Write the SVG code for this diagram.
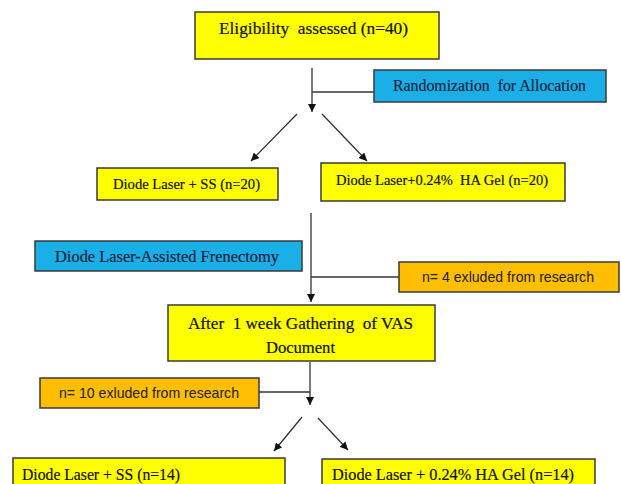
<svg xmlns="http://www.w3.org/2000/svg" width="621" height="484" viewBox="0 0 621 484">
<defs>
<style>
text{white-space:pre}
.y{fill:#FFFF00;stroke:#3a3a3a;stroke-width:1.5}
.b{fill:#1AAFE6;stroke:#3a3a3a;stroke-width:1.5}
.o{fill:#FFBE00;stroke:#3a3a3a;stroke-width:1.5}
.t{font-family:"Liberation Serif","Times New Roman",serif;font-size:17px;fill:#111;stroke:#111;stroke-width:0.2}
.tb{font-family:"Liberation Serif","Times New Roman",serif;font-size:17px;fill:#1a2340;stroke:#1a2340;stroke-width:0.2}
.s{font-family:"Liberation Sans","Open Sans",Arial,sans-serif;font-size:15px;fill:#222}
.c{fill:none;stroke:#333;stroke-width:1.3}
</style>
<marker id="ah" viewBox="0 0 10 10" refX="10" refY="5" markerWidth="8" markerHeight="8" markerUnits="userSpaceOnUse" orient="auto">
<path d="M0,0 L10,5 L0,10 Z" fill="#111"/>
</marker>
</defs>
<rect width="621" height="484" fill="#fff"/>
<g id="connectors">
<line class="c" x1="312" y1="68" x2="312" y2="112" marker-end="url(#ah)"/>
<line class="c" x1="312" y1="92" x2="374" y2="92"/>
<line class="c" x1="297" y1="114" x2="251" y2="161" marker-end="url(#ah)"/>
<line class="c" x1="322" y1="114" x2="367" y2="161" marker-end="url(#ah)"/>
<line class="c" x1="311" y1="213" x2="311" y2="302" marker-end="url(#ah)"/>
<line class="c" x1="311" y1="277" x2="399" y2="277"/>
<line class="c" x1="310" y1="362" x2="310" y2="405" marker-end="url(#ah)"/>
<line class="c" x1="259" y1="392" x2="310" y2="392"/>
<line class="c" x1="302" y1="417" x2="274" y2="451" marker-end="url(#ah)"/>
<line class="c" x1="318" y1="418" x2="348" y2="450" marker-end="url(#ah)"/>
</g>
<g id="eligibility">
<rect class="y" x="195" y="12" width="244" height="47"/>
<text class="t" x="219" y="34" textLength="189" lengthAdjust="spacingAndGlyphs">Eligibility  assessed (n=40)</text>
</g>
<g id="randomization">
<rect class="b" x="374" y="70" width="232" height="32"/>
<text class="tb" x="393" y="91" textLength="193" lengthAdjust="spacingAndGlyphs">Randomization  for Allocation</text>
</g>
<g id="ss20">
<rect class="y" x="97" y="168" width="181" height="32"/>
<text class="t" x="113" y="189" textLength="147" lengthAdjust="spacingAndGlyphs" style="font-size:15.5px">Diode Laser + SS (n=20)</text>
</g>
<g id="ha20">
<rect class="y" x="321" y="163" width="244" height="38"/>
<text class="t" x="336" y="185" textLength="212" lengthAdjust="spacingAndGlyphs" style="font-size:15.5px">Diode Laser+0.24%  HA Gel (n=20)</text>
</g>
<g id="frenectomy">
<rect class="b" x="35" y="241" width="267" height="30"/>
<text class="tb" x="55" y="262" textLength="224" lengthAdjust="spacingAndGlyphs">Diode Laser-Assisted Frenectomy</text>
</g>
<g id="excluded4">
<rect class="o" x="399" y="262" width="220" height="30"/>
<text class="s" x="422" y="282" textLength="172" lengthAdjust="spacingAndGlyphs">n= 4 exluded from research</text>
</g>
<g id="after1week">
<rect class="y" x="168" y="305" width="267" height="56"/>
<text class="t" x="188" y="329" textLength="225" lengthAdjust="spacingAndGlyphs">After  1 week Gathering  of VAS</text>
<text class="t" x="266" y="353" textLength="69" lengthAdjust="spacingAndGlyphs">Document</text>
</g>
<g id="excluded10">
<rect class="o" x="40" y="378" width="219" height="30"/>
<text class="s" x="59" y="398" textLength="180" lengthAdjust="spacingAndGlyphs">n= 10 exluded from research</text>
</g>
<g id="ss14">
<rect class="y" x="13" y="458" width="272" height="40"/>
<text class="t" x="22" y="480" textLength="158" lengthAdjust="spacingAndGlyphs">Diode Laser + SS (n=14)</text>
</g>
<g id="ha14">
<rect class="y" x="322" y="459" width="273" height="40"/>
<text class="t" x="332" y="480" textLength="242" lengthAdjust="spacingAndGlyphs">Diode Laser + 0.24% HA Gel (n=14)</text>
</g>
</svg>
